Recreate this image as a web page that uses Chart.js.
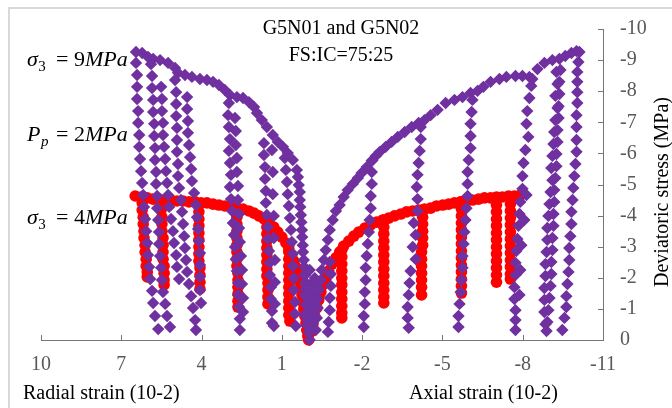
<!DOCTYPE html>
<html>
<head>
<meta charset="utf-8">
<title>G5N01 and G5N02</title>
<script src="https://cdn.jsdelivr.net/npm/chart.js@4.4.0/dist/chart.umd.min.js"></script>
<style>
  html, body { margin: 0; padding: 0; background: #fff; }
  #wrap { position: relative; width: 672px; height: 408px; }
</style>
</head>
<body>
<div id="wrap"><canvas id="stressChart" width="672" height="408"></canvas></div>
<script>
// axis ticks
const xTickValues = [10, 7, 4, 1, -2, -5, -8, -11];
const yTickValues = [0, -1, -2, -3, -4, -5, -6, -7, -8, -9, -10];

// G5N01 (sigma3 = 9 MPa) - monotonic envelope, radial side (x > 0)
const purpleRadialEnvelope = [
  [6.45,-9.26],[6.22,-9.23],[6.00,-9.10],[5.81,-9.04],[5.55,-9.00],[5.25,-8.91],[4.99,-8.75],[4.88,-8.59],
  [4.62,-8.52],[4.36,-8.46],[4.06,-8.39],[3.80,-8.36],[3.57,-8.30],[3.35,-8.20],[3.13,-8.04],[2.94,-7.88],
  [2.68,-7.81],[2.45,-7.78],[2.23,-7.65],[2.04,-7.49],[1.93,-7.30],[1.75,-7.07],[1.56,-6.85],[1.34,-6.59],
  [1.15,-6.37],[0.96,-6.21],[0.78,-6.01],[0.59,-5.79],[0.44,-5.47],[0.40,-5.24],[0.37,-4.98],[0.33,-4.76],
  [0.33,-4.50],[0.31,-4.28],[0.29,-4.02],[0.27,-3.79],[0.25,-3.54],[0.24,-3.31],[0.22,-3.05],[0.21,-2.83],
  [0.18,-2.57],[0.16,-2.35],[0.14,-2.09],[0.12,-1.86],[0.10,-1.61],[0.09,-1.38],[0.07,-1.13],[0.05,-0.90],
  [0.03,-0.64],[0.01,-0.45],[-0.01,-0.26]
];

// G5N01 unload / reload columns, radial side
const purpleRadialLoops = [
  [[6.45,-8.91],[6.41,-8.52],[6.41,-8.14],[6.41,-7.75],[6.37,-7.36],[6.37,-6.98],[6.33,-6.59],[6.33,-6.21],[6.30,-5.82],[6.26,-5.43],[6.22,-5.05],[6.18,-4.66],[6.15,-4.28],[6.11,-3.89],[6.07,-3.50],[6.03,-3.12],[6.00,-2.73],[5.96,-2.35],[5.92,-1.96],[5.85,-1.58],[5.81,-1.19],[5.74,-0.77],[5.62,-0.35]],
  [[5.89,-8.87],[5.85,-8.49],[5.85,-8.10],[5.81,-7.72],[5.81,-7.33],[5.77,-6.95],[5.77,-6.56],[5.74,-6.17],[5.74,-5.79],[5.70,-5.40],[5.70,-5.02],[5.66,-4.63],[5.66,-4.24],[5.62,-3.86],[5.59,-3.47],[5.59,-3.09],[5.55,-2.70],[5.51,-2.32],[5.48,-1.93],[5.44,-1.54],[5.36,-1.16],[5.29,-0.77],[5.18,-0.42]],
  [[5.51,-8.14],[5.48,-7.75],[5.48,-7.36],[5.44,-6.98],[5.44,-6.59],[5.40,-6.21],[5.36,-5.82],[5.33,-5.43],[5.29,-5.05],[5.25,-4.66],[5.21,-4.28],[5.14,-3.89],[5.07,-3.50],[5.03,-3.12],[4.95,-2.73],[4.92,-2.35],[4.84,-1.96]],
  [[4.99,-8.36],[4.95,-7.97],[4.95,-7.59],[4.95,-7.20],[4.92,-6.82],[4.92,-6.43],[4.92,-6.05],[4.88,-5.66],[4.88,-5.27],[4.84,-4.89],[4.77,-4.50],[4.73,-4.12],[4.69,-3.73],[4.65,-3.34],[4.62,-2.96],[4.58,-2.57],[4.54,-2.19],[4.47,-1.80],[4.39,-1.41],[4.32,-1.03],[4.24,-0.64],[4.21,-0.32]],
  [[4.54,-7.81],[4.54,-7.43],[4.51,-7.04],[4.51,-6.66],[4.47,-6.27],[4.43,-5.88],[4.39,-5.50],[4.36,-5.11],[4.28,-4.73],[4.21,-4.34],[4.17,-3.95],[4.13,-3.57],[4.10,-3.18],[4.06,-2.80],[4.06,-2.41],[4.06,-2.03],[4.06,-1.61],[4.02,-1.19]],
  [[2.98,-7.62],[3.01,-7.23],[2.98,-6.85],[2.94,-6.46],[2.98,-6.08],[2.94,-5.69],[2.90,-5.31],[2.94,-4.92],[2.90,-4.53],[2.86,-4.15],[2.83,-3.76],[2.79,-3.38],[2.75,-2.99],[2.72,-2.60],[2.68,-2.22],[2.64,-1.83],[2.64,-1.45],[2.60,-1.06],[2.57,-0.68],[2.57,-0.32]],
  [[2.75,-7.14],[2.72,-6.72],[2.72,-6.27],[2.68,-5.85],[2.68,-5.40],[2.64,-4.95],[2.64,-4.50],[2.60,-4.05],[2.60,-3.60],[2.57,-3.15],[2.53,-2.70],[2.49,-2.25],[2.49,-1.80],[2.45,-1.35],[2.45,-0.90]],
  [[1.67,-6.33],[1.67,-5.95],[1.63,-5.56],[1.63,-5.18],[1.60,-4.79],[1.60,-4.41],[1.56,-4.02],[1.52,-3.63],[1.52,-3.25],[1.48,-2.86],[1.45,-2.48],[1.45,-2.09],[1.41,-1.70],[1.41,-1.32],[1.37,-0.93],[1.37,-0.55]],
  [[1.37,-6.11],[1.34,-5.40],[1.34,-4.69],[1.30,-3.99],[1.30,-3.28],[1.26,-2.57],[1.26,-1.86],[1.26,-1.16],[1.30,-0.45]],
  [[0.89,-5.85],[0.85,-5.47],[0.81,-5.08],[0.78,-4.69],[0.74,-4.31],[0.70,-3.92],[0.66,-3.54],[0.63,-3.15],[0.59,-2.77],[0.59,-2.38],[0.55,-1.99],[0.55,-1.61],[0.51,-1.22],[0.51,-0.84],[0.48,-0.45]]
];

// G5N01 first small cycles around the origin
const purpleOriginCluster = [
  [0.14,-2.09],[-0.04,-2.25],[-0.23,-1.99],[0.10,-1.77],[-0.12,-1.83],[-0.34,-1.67],[0.14,-1.45],[-0.08,-1.51],
  [-0.31,-1.35],[0.10,-1.13],[-0.12,-1.19],[-0.34,-1.03],[0.14,-0.80],[-0.08,-0.87],[-0.31,-0.71],[0.07,-0.48],
  [-0.16,-0.55],[-0.27,-0.32],[-0.01,-0.23],[-0.04,0]
];

// G5N01 envelope, axial side (x < 0)
const purpleAxialEnvelope = [
  [-0.08,-0.32],[-0.16,-0.64],[-0.23,-0.96],[-0.31,-1.29],[-0.38,-1.61],[-0.46,-1.93],[-0.49,-2.25],[-0.57,-2.57],
  [-0.64,-2.89],[-0.72,-3.22],[-0.79,-3.54],[-0.90,-3.86],[-1.02,-4.15],[-1.16,-4.34],[-1.31,-4.60],[-1.46,-4.82],
  [-1.65,-5.02],[-1.84,-5.21],[-1.98,-5.37],[-2.17,-5.56],[-2.36,-5.76],[-2.51,-5.92],[-2.66,-6.05],[-2.88,-6.21],
  [-3.10,-6.37],[-3.33,-6.53],[-3.59,-6.69],[-3.85,-6.85],[-4.11,-6.98],[-4.33,-7.07],[-4.56,-7.23],[-4.82,-7.40],
  [-5.12,-7.62],[-5.45,-7.72],[-5.75,-7.81],[-6.05,-7.94],[-6.31,-8.01],[-6.53,-8.14],[-6.80,-8.30],[-7.13,-8.39],
  [-7.39,-8.46],[-7.73,-8.49],[-7.99,-8.49],[-8.25,-8.46],[-8.36,-8.39],[-8.55,-8.71],[-8.81,-8.91],[-9.11,-9.00],
  [-9.37,-9.04],[-9.59,-9.13],[-9.82,-9.23],[-10.01,-9.29],[-10.12,-9.26]
];

// G5N01 unload / reload columns, axial side
const purpleAxialLoops = [
  [[-0.79,-2.51],[-0.83,-2.12],[-0.83,-1.74],[-0.79,-1.35],[-0.79,-0.96],[-0.75,-0.58],[-0.72,-0.26]],
  [[-2.39,-5.79],[-2.36,-5.40],[-2.36,-5.02],[-2.32,-4.63],[-2.32,-4.24],[-2.28,-3.86],[-2.25,-3.47],[-2.21,-3.09],[-2.17,-2.70],[-2.13,-2.32],[-2.13,-1.93],[-2.10,-1.54],[-2.10,-1.16],[-2.06,-0.77],[-2.06,-0.42]],
  [[-4.19,-6.85],[-4.19,-6.46],[-4.15,-6.08],[-4.11,-5.69],[-4.07,-5.31],[-4.04,-4.92],[-4.07,-4.53],[-4.07,-4.15],[-3.93,-3.76],[-4.00,-3.38],[-3.89,-2.99],[-4.00,-2.60],[-3.81,-2.22],[-3.77,-1.83],[-3.74,-1.45],[-3.70,-1.06],[-3.70,-0.71],[-3.74,-0.39]],
  [[-6.12,-7.72],[-6.09,-7.33],[-6.05,-6.95],[-6.05,-6.56],[-6.05,-6.17],[-5.98,-5.79],[-5.94,-5.40],[-5.94,-5.02],[-5.94,-4.63],[-5.90,-4.24],[-5.86,-3.86],[-5.82,-3.47],[-5.79,-3.09],[-5.75,-2.70],[-5.75,-2.32],[-5.71,-1.93],[-5.68,-1.54],[-5.64,-1.16],[-5.60,-0.77],[-5.60,-0.42]],
  [[-8.32,-8.17],[-8.25,-7.78],[-8.17,-7.36],[-8.14,-6.95],[-8.21,-6.53],[-8.10,-6.11],[-8.03,-5.69],[-7.99,-5.27],[-7.99,-4.86],[-7.91,-4.44],[-7.88,-4.05],[-7.84,-3.67],[-7.80,-3.25],[-7.76,-2.86],[-7.73,-2.48],[-7.73,-2.09],[-7.69,-1.70],[-7.69,-1.32],[-7.73,-0.96],[-7.73,-0.64],[-7.73,-0.32]],
  [[-8.14,-4.66],[-8.06,-3.86],[-7.95,-3.05],[-7.91,-2.25],[-7.88,-1.45]],
  [[-9.26,-8.62],[-9.30,-8.23],[-9.22,-7.85],[-9.30,-7.46],[-9.22,-7.07],[-9.18,-6.69],[-9.15,-6.30],[-9.11,-5.92],[-9.07,-5.53],[-9.11,-5.14],[-9.04,-4.76],[-9.00,-4.37],[-8.96,-3.99],[-8.92,-3.60],[-8.92,-3.22],[-8.89,-2.83],[-8.85,-2.44],[-8.85,-2.06],[-8.81,-1.67],[-8.81,-1.29],[-8.81,-0.90],[-8.85,-0.51]],
  [[-9.41,-8.68],[-9.37,-8.30],[-9.37,-7.91],[-9.34,-7.52],[-9.34,-7.14],[-9.30,-6.75],[-9.30,-6.37],[-9.26,-5.98],[-9.26,-5.59],[-9.22,-5.21],[-9.18,-4.82],[-9.18,-4.44],[-9.15,-4.05],[-9.15,-3.67],[-9.11,-3.28],[-9.11,-2.89],[-9.07,-2.51],[-9.07,-2.12],[-9.04,-1.74],[-9.00,-1.35],[-8.96,-0.96],[-8.92,-0.58],[-8.89,-0.29]],
  [[-10.08,-8.94],[-10.04,-8.62],[-10.04,-8.30],[-10.04,-7.97],[-10.04,-7.62],[-10.01,-7.23],[-10.01,-6.85],[-10.01,-6.43],[-10.01,-6.05],[-9.97,-5.66],[-9.93,-5.27],[-9.89,-4.89],[-9.86,-4.50],[-9.82,-4.12],[-9.82,-3.73],[-9.78,-3.34],[-9.74,-2.96],[-9.74,-2.57],[-9.71,-2.19],[-9.67,-1.80],[-9.63,-1.41],[-9.63,-1.06],[-9.56,-0.71],[-9.48,-0.32]]
];

// G5N02 (sigma3 = 4 MPa) envelope, radial side
const redRadialEnvelope = [
  [6.48,-4.63],[6.26,-4.60],[6.03,-4.57],[5.81,-4.53],[5.59,-4.53],[5.36,-4.50],[5.14,-4.50],[4.92,-4.47],
  [4.69,-4.47],[4.47,-4.44],[4.24,-4.44],[4.02,-4.41],[3.80,-4.41],[3.57,-4.37],[3.35,-4.34],[3.13,-4.31],
  [2.90,-4.28],[2.68,-4.24],[2.45,-4.21],[2.23,-4.15],[2.04,-4.08],[1.86,-3.99],[1.67,-3.89],[1.48,-3.76],
  [1.30,-3.63],[1.15,-3.47],[1.00,-3.31],[0.85,-3.12],[0.74,-2.93],[0.63,-2.73],[0.55,-2.54],[0.48,-2.35],
  [0.40,-2.12],[0.37,-1.90],[0.29,-1.67],[0.25,-1.45],[0.22,-1.22],[0.18,-1.00],[0.14,-0.77],[0.10,-0.55],
  [0.07,-0.32],[0.03,-0.13]
];

const redRadialLoops = [
  [[6.22,-4.41],[6.22,-4.18],[6.18,-3.95],[6.18,-3.73],[6.15,-3.50],[6.15,-3.28],[6.11,-3.05],[6.11,-2.83],[6.07,-2.60],[6.07,-2.38],[6.03,-2.19],[6.03,-2.03]],
  [[5.51,-4.41],[5.51,-4.18],[5.48,-3.95],[5.48,-3.73],[5.48,-3.50],[5.44,-3.28],[5.44,-3.05],[5.44,-2.83],[5.44,-2.60],[5.40,-2.38],[5.40,-2.15],[5.40,-1.93],[5.40,-1.77]],
  [[4.10,-4.34],[4.10,-4.12],[4.10,-3.89],[4.10,-3.67],[4.10,-3.44],[4.10,-3.22],[4.10,-2.99],[4.10,-2.77],[4.10,-2.54],[4.06,-2.32],[4.06,-2.09],[4.06,-1.86],[4.06,-1.64]],
  [[2.68,-4.18],[2.68,-3.95],[2.68,-3.73],[2.68,-3.50],[2.68,-3.28],[2.68,-3.05],[2.68,-2.83],[2.68,-2.60],[2.68,-2.38],[2.64,-2.15],[2.64,-1.93],[2.64,-1.70],[2.64,-1.48],[2.64,-1.25],[2.64,-1.06]],
  [[1.56,-3.86],[1.56,-3.63],[1.56,-3.41],[1.56,-3.18],[1.56,-2.96],[1.56,-2.73],[1.56,-2.51],[1.56,-2.28],[1.56,-2.06],[1.52,-1.83],[1.52,-1.61],[1.52,-1.38],[1.52,-1.16]],
  [[0.74,-3.05],[0.74,-2.83],[0.74,-2.60],[0.74,-2.38],[0.74,-2.15],[0.74,-1.93],[0.74,-1.70],[0.74,-1.48],[0.74,-1.25],[0.74,-1.03],[0.74,-0.80],[0.70,-0.61]]
];

// G5N02 envelope, axial side
const redAxialEnvelope = [
  [0,0],[-0.08,-0.26],[-0.16,-0.51],[-0.23,-0.77],[-0.31,-1.03],[-0.38,-1.29],[-0.46,-1.54],[-0.53,-1.77],
  [-0.64,-1.99],[-0.75,-2.22],[-0.87,-2.44],[-1.02,-2.64],[-1.16,-2.83],[-1.31,-3.02],[-1.50,-3.18],[-1.69,-3.34],
  [-1.87,-3.47],[-2.10,-3.60],[-2.32,-3.70],[-2.54,-3.79],[-2.77,-3.86],[-2.99,-3.92],[-3.21,-3.99],[-3.44,-4.05],
  [-3.66,-4.12],[-3.89,-4.15],[-4.11,-4.18],[-4.33,-4.21],[-4.56,-4.24],[-4.78,-4.31],[-5.01,-4.34],[-5.23,-4.37],
  [-5.45,-4.41],[-5.68,-4.44],[-5.90,-4.47],[-6.12,-4.50],[-6.35,-4.53],[-6.57,-4.57],[-6.80,-4.57],[-7.02,-4.60],
  [-7.24,-4.60],[-7.47,-4.63],[-7.69,-4.63],[-7.91,-4.66]
];

const redAxialLoops = [
  [[-1.24,-2.89],[-1.24,-2.67],[-1.24,-2.44],[-1.24,-2.22],[-1.24,-1.99],[-1.24,-1.77],[-1.24,-1.54],[-1.24,-1.32],[-1.24,-1.09],[-1.24,-0.87],[-1.24,-0.71]],
  [[-2.81,-3.86],[-2.81,-3.63],[-2.81,-3.41],[-2.81,-3.18],[-2.81,-2.96],[-2.81,-2.73],[-2.81,-2.51],[-2.81,-2.28],[-2.81,-2.06],[-2.81,-1.83],[-2.81,-1.61],[-2.81,-1.38],[-2.81,-1.19]],
  [[-4.26,-4.18],[-4.26,-3.95],[-4.26,-3.73],[-4.26,-3.50],[-4.26,-3.28],[-4.26,-3.05],[-4.22,-2.83],[-4.22,-2.60],[-4.22,-2.38],[-4.22,-2.15],[-4.22,-1.93],[-4.22,-1.70],[-4.22,-1.45]],
  [[-5.71,-4.44],[-5.71,-4.21],[-5.71,-3.99],[-5.71,-3.76],[-5.71,-3.54],[-5.71,-3.31],[-5.71,-3.09],[-5.71,-2.86],[-5.71,-2.64],[-5.71,-2.41],[-5.71,-2.19],[-5.71,-1.96],[-5.71,-1.74],[-5.71,-1.51]],
  [[-7.02,-4.57],[-7.02,-4.34],[-7.02,-4.12],[-7.02,-3.89],[-7.02,-3.67],[-7.02,-3.44],[-7.02,-3.22],[-7.02,-2.99],[-7.02,-2.77],[-7.02,-2.54],[-7.02,-2.32],[-7.02,-2.09],[-7.02,-1.86]],
  [[-7.54,-4.60],[-7.54,-4.37],[-7.54,-4.15],[-7.54,-3.92],[-7.54,-3.70],[-7.54,-3.47],[-7.54,-3.25],[-7.54,-3.02],[-7.54,-2.80],[-7.54,-2.57],[-7.54,-2.35],[-7.54,-2.12],[-7.54,-1.96]]
];

// text
const titleLines = ['G5N01 and G5N02', 'FS:IC=75:25'];
const radialTitle = 'Radial strain (10-2)';
const axialTitle = 'Axial strain (10-2)';
const stressTitle = 'Deviatoric stress (MPa)';
const testConditions = [
  { sym: 'σ', sub: '3', value: '9', baseline: 66 },
  { sym: 'P', sub: 'p', value: '2', baseline: 141 },
  { sym: 'σ', sub: '3', value: '4', baseline: 224 }
];

const serif = '"Liberation Serif", "Times New Roman", serif';
const axisColor = '#767676';
const tickColor = '#595959';

function toPoints(list) {
  return list.map(([x, y]) => ({ x, y }));
}

const purplePoints = toPoints([
  ...purpleRadialEnvelope,
  ...purpleRadialLoops.flat(),
  ...purpleOriginCluster,
  ...purpleAxialEnvelope,
  ...purpleAxialLoops.flat()
]);

const redPoints = toPoints([
  ...redRadialEnvelope,
  ...redRadialLoops.flat(),
  ...redAxialEnvelope,
  ...redAxialLoops.flat()
]);

function drawCondition(ctx, item, left) {
  ctx.textAlign = 'left';
  ctx.textBaseline = 'alphabetic';
  ctx.fillStyle = '#000';
  ctx.font = 'italic 22px ' + serif;
  ctx.fillText(item.sym, left, item.baseline);
  const subX = left + ctx.measureText(item.sym).width + 0.5;
  ctx.font = (item.sub === 'p' ? 'italic ' : '') + '15px ' + serif;
  ctx.fillText(item.sub, subX, item.baseline + 5);
  ctx.font = '22px ' + serif;
  ctx.fillText('=', left + 29, item.baseline);
  ctx.fillText(item.value, left + 47, item.baseline);
  ctx.font = 'italic 22px ' + serif;
  ctx.fillText('MPa', left + 58, item.baseline);
}

const decorPlugin = {
  id: 'decor',
  beforeDraw(chart) {
    const ctx = chart.ctx;
    ctx.save();
    ctx.fillStyle = '#ffffff';
    ctx.fillRect(0, 0, chart.width, chart.height);
    // outer chart frame
    ctx.fillStyle = '#d9d9d9';
    ctx.fillRect(8, 7, chart.width - 8, 2);
    ctx.fillRect(8, 7, 2, chart.height - 7);
    ctx.restore();
  },
  afterDraw(chart) {
    const ctx = chart.ctx;
    const xs = chart.scales.x;
    const ys = chart.scales.y;
    const area = chart.chartArea;
    ctx.save();

    // tick marks point into the plot
    ctx.strokeStyle = axisColor;
    ctx.lineWidth = 1;
    ctx.beginPath();
    xTickValues.forEach(v => {
      const px = Math.round(xs.getPixelForValue(v)) + 0.5;
      ctx.moveTo(px, area.bottom);
      ctx.lineTo(px, area.bottom - 5);
    });
    yTickValues.forEach(v => {
      const py = Math.round(ys.getPixelForValue(v)) + 0.5;
      ctx.moveTo(area.right, py);
      ctx.lineTo(area.right - 5, py);
    });
    ctx.stroke();

    // title
    ctx.fillStyle = '#000';
    ctx.font = '20px ' + serif;
    ctx.textAlign = 'center';
    ctx.textBaseline = 'alphabetic';
    ctx.fillText(titleLines[0], 341, 34);
    ctx.fillText(titleLines[1], 341, 61);

    // axis titles
    ctx.textAlign = 'left';
    ctx.fillText(radialTitle, 23, 399);
    ctx.fillText(axialTitle, 409, 399);

    ctx.save();
    ctx.translate(668, 192);
    ctx.rotate(-Math.PI / 2);
    ctx.textAlign = 'center';
    ctx.fillText(stressTitle, 0, 0);
    ctx.restore();

    // confining / pore pressure notes
    testConditions.forEach(item => drawCondition(ctx, item, 27));

    ctx.restore();
  }
};

const ctx = document.getElementById('stressChart').getContext('2d');

const stressChart = new Chart(ctx, {
  type: 'scatter',
  data: {
    datasets: [
      {
        label: 'G5N01',
        data: purplePoints,
        pointStyle: 'rectRot',
        pointRadius: 6.2,
        pointBackgroundColor: '#7030A0',
        pointBorderColor: '#7030A0',
        pointBorderWidth: 0,
        showLine: false,
        clip: false
      },
      {
        label: 'G5N02',
        data: redPoints,
        pointStyle: 'circle',
        pointRadius: 5.8,
        pointBackgroundColor: '#FF0000',
        pointBorderColor: '#FF0000',
        pointBorderWidth: 0,
        showLine: false,
        clip: false
      }
    ]
  },
  options: {
    responsive: false,
    animation: false,
    devicePixelRatio: 1,
    events: [],
    layout: { padding: { left: 41, top: 29, right: 0, bottom: 0 } },
    plugins: {
      legend: { display: false },
      tooltip: { enabled: false }
    },
    scales: {
      x: {
        type: 'linear',
        min: -11,
        max: 10,
        reverse: true,
        afterBuildTicks: scale => { scale.ticks = xTickValues.map(v => ({ value: v })); },
        afterFit: scale => { scale.height = 68; },
        grid: { display: false, drawTicks: false },
        border: { display: true, color: axisColor, width: 1 },
        ticks: {
          color: tickColor,
          font: { family: serif, size: 20 },
          padding: 13,
          autoSkip: false,
          maxRotation: 0
        }
      },
      y: {
        type: 'linear',
        position: 'right',
        min: -10,
        max: 0,
        reverse: true,
        afterBuildTicks: scale => { scale.ticks = yTickValues.map(v => ({ value: v })); },
        afterFit: scale => { scale.width = 69; },
        grid: { display: false, drawTicks: false },
        border: { display: true, color: axisColor, width: 1 },
        ticks: {
          color: tickColor,
          font: { family: serif, size: 20 },
          padding: 17,
          autoSkip: false
        }
      }
    }
  },
  plugins: [decorPlugin]
});
</script>
</body>
</html>
